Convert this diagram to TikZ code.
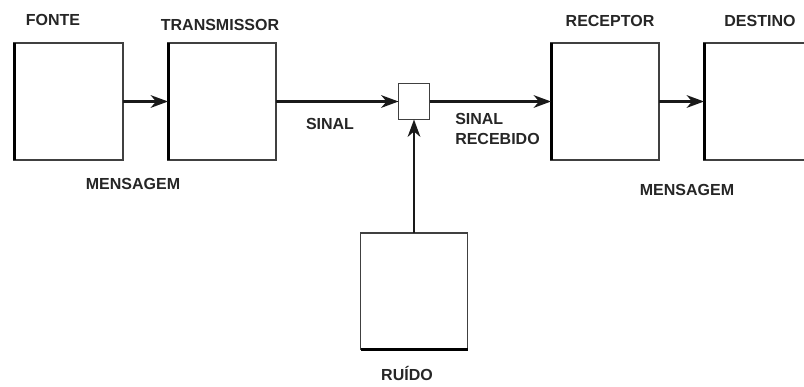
\documentclass[tikz,border=0pt]{standalone}
\usepackage{fontspec}
\setmainfont{Liberation Sans}
\usetikzlibrary{arrows.meta}
\newdimen\pxd \pxd=0.75pt
\begin{document}
\begin{tikzpicture}[x=0.75pt,y=-0.75pt,
  blk/.style={draw=black!75,line width=1.05pt,inner sep=0pt,outer sep=0pt,fill=white},
  lbl/.style={font=\bfseries\fontsize{12}{14}\selectfont,text=black!85,inner sep=0pt},
  conn/.style={line width=1.65pt,black!90,-{Stealth[length=13pt,width=9.5pt,inset=4pt]}},
  thick edge/.style={line width=2.25pt,black}]
\useasboundingbox[fill=white] (0,0) rectangle (804,386);
\node[blk,minimum width=109\pxd,minimum height=117\pxd] (fonte) at (68.5,101.5) {};
\node[blk,minimum width=108\pxd,minimum height=117\pxd] (trans) at (222,101.5) {};
\node[blk,minimum width=31\pxd,minimum height=36\pxd] (mix) at (414,101.5) {};
\node[blk,minimum width=108\pxd,minimum height=117\pxd] (recep) at (605,101.5) {};
\node[blk,minimum width=120\pxd,minimum height=117\pxd] (dest) at (764,101.5) {};
\node[blk,minimum width=107\pxd,minimum height=116\pxd] (ruido) at (414,291) {};
% thicker edges
\draw[thick edge] (fonte.north west) -- (fonte.south west);
\draw[thick edge] (trans.north west) -- (trans.south west);
\draw[thick edge] (recep.north west) -- (recep.south west);
\draw[thick edge] (dest.north west) -- (dest.south west);
\draw[thick edge] (ruido.south west) -- (ruido.south east);
% connectors
\draw[conn] (fonte.east) -- (trans.west);
\draw[conn] (trans.east) -- (mix.west);
\draw[conn] (mix.east) -- (recep.west);
\draw[conn] (recep.east) -- (dest.west);
\draw[conn] (ruido.north) -- (mix.south);
% labels
\node[lbl] (lfonte) at (53,20) {FONTE};
\node[lbl] (ltrans) at (220,25) {TRANSMISSOR};
\node[lbl] (lmsg1) at (133,184) {MENSAGEM};
\node[lbl] (lsinal) at (330,124) {SINAL};
\node[lbl,anchor=north west,align=left,font=\bfseries\fontsize{12}{15}\selectfont] (lrec) at (455,113) {SINAL\\RECEBIDO};
\node[lbl] (lrecep) at (610,21) {RECEPTOR};
\node[lbl] (ldest) at (760,21) {DESTINO};
\node[lbl] (lmsg2) at (687,190) {MENSAGEM};
\node[lbl] (lruido) at (407,373) {RUÍDO};
\end{tikzpicture}
\end{document}
